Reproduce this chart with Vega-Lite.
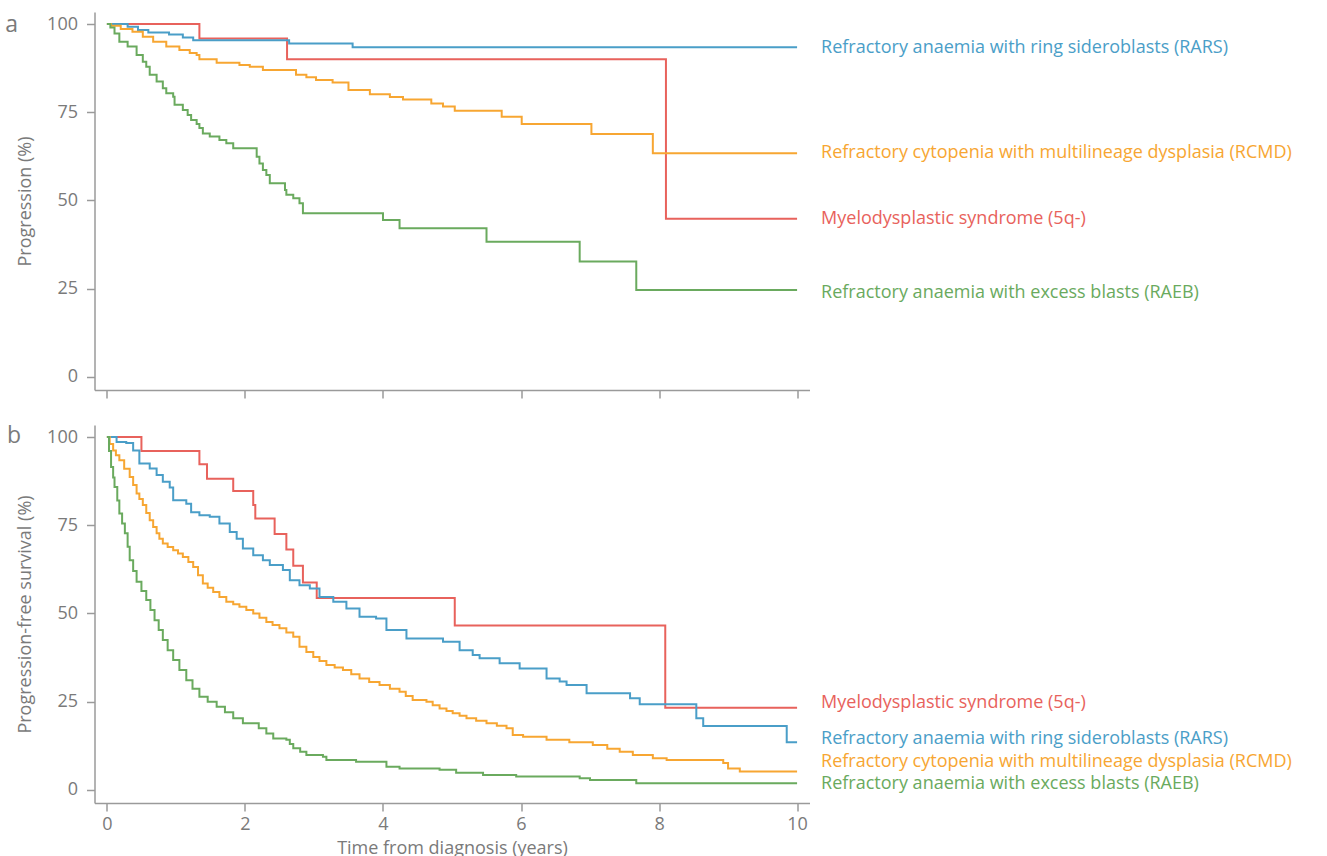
{
  "$schema": "https://vega.github.io/schema/vega-lite/v6.json",
  "background": "white",
  "padding": {"left": 4.5, "top": 12, "right": 5, "bottom": 0},
  "spacing": 35,
  "bounds": "flush",
  "config": {
    "view": {"stroke": null},
    "font": "Open Sans",
    "axis": {
      "grid": false,
      "domainColor": "#9a9a9a",
      "domainWidth": 1.5,
      "tickColor": "#9a9a9a",
      "tickWidth": 1.5,
      "tickSize": 8,
      "labelFont": "Open Sans",
      "labelFontSize": 18,
      "labelColor": "#7a7a7a",
      "titleFont": "Open Sans",
      "titleFontSize": 18,
      "titleColor": "#7a7a7a",
      "titleFontWeight": "normal"
    }
  },
  "datasets": {
    "curves": [
      {"p":"a","g":"5q","t":0,"v":100},{"p":"a","g":"5q","t":1.34,"v":95.9},{"p":"a","g":"5q","t":2.61,"v":90.0},{"p":"a","g":"5q","t":8.10,"v":44.8},{"p":"a","g":"5q","t":10,"v":44.8},
      {"p":"a","g":"RARS","t":0,"v":100},{"p":"a","g":"RARS","t":0.3,"v":99.2},{"p":"a","g":"RARS","t":0.45,"v":98.3},{"p":"a","g":"RARS","t":0.6,"v":97.6},{"p":"a","g":"RARS","t":0.9,"v":97.0},{"p":"a","g":"RARS","t":1.1,"v":96.2},{"p":"a","g":"RARS","t":1.25,"v":95.4},{"p":"a","g":"RARS","t":2.64,"v":94.5},{"p":"a","g":"RARS","t":3.56,"v":93.4},{"p":"a","g":"RARS","t":10,"v":93.4},
      {"p":"a","g":"RCMD","t":0,"v":100},{"p":"a","g":"RCMD","t":0.06,"v":99.5},{"p":"a","g":"RCMD","t":0.2,"v":98.6},{"p":"a","g":"RCMD","t":0.37,"v":97.8},{"p":"a","g":"RCMD","t":0.52,"v":96.4},{"p":"a","g":"RCMD","t":0.67,"v":95.0},{"p":"a","g":"RCMD","t":0.86,"v":93.6},{"p":"a","g":"RCMD","t":1.05,"v":92.6},{"p":"a","g":"RCMD","t":1.2,"v":91.8},{"p":"a","g":"RCMD","t":1.30,"v":91.2},{"p":"a","g":"RCMD","t":1.34,"v":90.0},{"p":"a","g":"RCMD","t":1.59,"v":89.0},{"p":"a","g":"RCMD","t":1.92,"v":88.4},{"p":"a","g":"RCMD","t":2.07,"v":87.9},{"p":"a","g":"RCMD","t":2.26,"v":87.0},{"p":"a","g":"RCMD","t":2.74,"v":85.6},{"p":"a","g":"RCMD","t":2.89,"v":84.9},{"p":"a","g":"RCMD","t":3.03,"v":84.1},{"p":"a","g":"RCMD","t":3.27,"v":83.4},{"p":"a","g":"RCMD","t":3.5,"v":81.3},{"p":"a","g":"RCMD","t":3.81,"v":80.1},{"p":"a","g":"RCMD","t":4.10,"v":79.3},{"p":"a","g":"RCMD","t":4.29,"v":78.6},{"p":"a","g":"RCMD","t":4.70,"v":77.5},{"p":"a","g":"RCMD","t":4.87,"v":76.6},{"p":"a","g":"RCMD","t":5.04,"v":75.4},{"p":"a","g":"RCMD","t":5.72,"v":73.7},{"p":"a","g":"RCMD","t":6.01,"v":71.7},{"p":"a","g":"RCMD","t":7.02,"v":68.8},{"p":"a","g":"RCMD","t":7.91,"v":63.4},{"p":"a","g":"RCMD","t":10,"v":63.4},
      {"p":"a","g":"RAEB","t":0,"v":100},{"p":"a","g":"RAEB","t":0.05,"v":99.0},{"p":"a","g":"RAEB","t":0.11,"v":97.3},{"p":"a","g":"RAEB","t":0.18,"v":95.0},{"p":"a","g":"RAEB","t":0.30,"v":93.6},{"p":"a","g":"RAEB","t":0.43,"v":91.2},{"p":"a","g":"RAEB","t":0.52,"v":89.3},{"p":"a","g":"RAEB","t":0.57,"v":87.9},{"p":"a","g":"RAEB","t":0.62,"v":85.6},{"p":"a","g":"RAEB","t":0.72,"v":83.7},{"p":"a","g":"RAEB","t":0.81,"v":81.8},{"p":"a","g":"RAEB","t":0.86,"v":80.4},{"p":"a","g":"RAEB","t":0.96,"v":79.4},{"p":"a","g":"RAEB","t":0.98,"v":77.1},{"p":"a","g":"RAEB","t":1.10,"v":75.6},{"p":"a","g":"RAEB","t":1.17,"v":74.2},{"p":"a","g":"RAEB","t":1.22,"v":72.8},{"p":"a","g":"RAEB","t":1.30,"v":71.7},{"p":"a","g":"RAEB","t":1.34,"v":70.5},{"p":"a","g":"RAEB","t":1.39,"v":69.0},{"p":"a","g":"RAEB","t":1.49,"v":68.1},{"p":"a","g":"RAEB","t":1.63,"v":67.1},{"p":"a","g":"RAEB","t":1.73,"v":66.2},{"p":"a","g":"RAEB","t":1.83,"v":64.8},{"p":"a","g":"RAEB","t":2.17,"v":62.4},{"p":"a","g":"RAEB","t":2.21,"v":60.5},{"p":"a","g":"RAEB","t":2.26,"v":58.6},{"p":"a","g":"RAEB","t":2.31,"v":57.2},{"p":"a","g":"RAEB","t":2.36,"v":54.9},{"p":"a","g":"RAEB","t":2.58,"v":53.0},{"p":"a","g":"RAEB","t":2.60,"v":51.6},{"p":"a","g":"RAEB","t":2.70,"v":50.6},{"p":"a","g":"RAEB","t":2.79,"v":49.2},{"p":"a","g":"RAEB","t":2.84,"v":46.4},{"p":"a","g":"RAEB","t":4.0,"v":44.5},{"p":"a","g":"RAEB","t":4.24,"v":42.1},{"p":"a","g":"RAEB","t":5.50,"v":38.3},{"p":"a","g":"RAEB","t":6.85,"v":32.7},{"p":"a","g":"RAEB","t":7.67,"v":24.6},{"p":"a","g":"RAEB","t":10,"v":24.6},
      {"p":"b","g":"5q","t":0,"v":100},{"p":"b","g":"5q","t":0.50,"v":96.0},{"p":"b","g":"5q","t":1.34,"v":92.3},{"p":"b","g":"5q","t":1.45,"v":88.2},{"p":"b","g":"5q","t":1.83,"v":84.7},{"p":"b","g":"5q","t":2.12,"v":80.7},{"p":"b","g":"5q","t":2.15,"v":76.9},{"p":"b","g":"5q","t":2.43,"v":72.5},{"p":"b","g":"5q","t":2.60,"v":68.1},{"p":"b","g":"5q","t":2.70,"v":63.5},{"p":"b","g":"5q","t":2.84,"v":58.8},{"p":"b","g":"5q","t":3.04,"v":54.4},{"p":"b","g":"5q","t":5.04,"v":46.6},{"p":"b","g":"5q","t":8.09,"v":23.3},{"p":"b","g":"5q","t":10,"v":23.3},
      {"p":"b","g":"RARS","t":0,"v":100},{"p":"b","g":"RARS","t":0.14,"v":98.6},{"p":"b","g":"RARS","t":0.28,"v":98.3},{"p":"b","g":"RARS","t":0.38,"v":96.2},{"p":"b","g":"RARS","t":0.47,"v":92.5},{"p":"b","g":"RARS","t":0.62,"v":91.1},{"p":"b","g":"RARS","t":0.72,"v":89.2},{"p":"b","g":"RARS","t":0.81,"v":87.3},{"p":"b","g":"RARS","t":0.91,"v":85.7},{"p":"b","g":"RARS","t":0.96,"v":82.1},{"p":"b","g":"RARS","t":1.15,"v":81.1},{"p":"b","g":"RARS","t":1.22,"v":78.7},{"p":"b","g":"RARS","t":1.34,"v":77.8},{"p":"b","g":"RARS","t":1.49,"v":77.4},{"p":"b","g":"RARS","t":1.63,"v":75.5},{"p":"b","g":"RARS","t":1.78,"v":73.1},{"p":"b","g":"RARS","t":1.88,"v":71.2},{"p":"b","g":"RARS","t":1.97,"v":68.4},{"p":"b","g":"RARS","t":2.12,"v":66.5},{"p":"b","g":"RARS","t":2.26,"v":65.1},{"p":"b","g":"RARS","t":2.36,"v":63.7},{"p":"b","g":"RARS","t":2.55,"v":62.3},{"p":"b","g":"RARS","t":2.65,"v":59.4},{"p":"b","g":"RARS","t":2.79,"v":58.0},{"p":"b","g":"RARS","t":2.94,"v":57.1},{"p":"b","g":"RARS","t":3.08,"v":54.7},{"p":"b","g":"RARS","t":3.28,"v":53.3},{"p":"b","g":"RARS","t":3.47,"v":51.4},{"p":"b","g":"RARS","t":3.66,"v":49.1},{"p":"b","g":"RARS","t":3.90,"v":48.6},{"p":"b","g":"RARS","t":4.05,"v":45.3},{"p":"b","g":"RARS","t":4.34,"v":42.9},{"p":"b","g":"RARS","t":4.87,"v":42.0},{"p":"b","g":"RARS","t":5.11,"v":39.6},{"p":"b","g":"RARS","t":5.30,"v":38.2},{"p":"b","g":"RARS","t":5.40,"v":37.3},{"p":"b","g":"RARS","t":5.69,"v":35.9},{"p":"b","g":"RARS","t":5.98,"v":34.4},{"p":"b","g":"RARS","t":6.37,"v":31.6},{"p":"b","g":"RARS","t":6.56,"v":30.7},{"p":"b","g":"RARS","t":6.66,"v":29.7},{"p":"b","g":"RARS","t":6.95,"v":27.4},{"p":"b","g":"RARS","t":7.58,"v":26.0},{"p":"b","g":"RARS","t":7.72,"v":24.3},{"p":"b","g":"RARS","t":8.54,"v":20.3},{"p":"b","g":"RARS","t":8.64,"v":18.1},{"p":"b","g":"RARS","t":9.85,"v":13.5},{"p":"b","g":"RARS","t":10,"v":13.5},
      {"p":"b","g":"RCMD","t":0,"v":100},{"p":"b","g":"RCMD","t":0.04,"v":98.0},{"p":"b","g":"RCMD","t":0.09,"v":96.2},{"p":"b","g":"RCMD","t":0.13,"v":94.8},{"p":"b","g":"RCMD","t":0.18,"v":93.4},{"p":"b","g":"RCMD","t":0.25,"v":91.0},{"p":"b","g":"RCMD","t":0.33,"v":88.7},{"p":"b","g":"RCMD","t":0.38,"v":86.4},{"p":"b","g":"RCMD","t":0.43,"v":84.0},{"p":"b","g":"RCMD","t":0.47,"v":82.4},{"p":"b","g":"RCMD","t":0.52,"v":80.7},{"p":"b","g":"RCMD","t":0.57,"v":78.5},{"p":"b","g":"RCMD","t":0.62,"v":76.4},{"p":"b","g":"RCMD","t":0.67,"v":74.5},{"p":"b","g":"RCMD","t":0.72,"v":72.7},{"p":"b","g":"RCMD","t":0.76,"v":71.2},{"p":"b","g":"RCMD","t":0.81,"v":69.8},{"p":"b","g":"RCMD","t":0.88,"v":68.8},{"p":"b","g":"RCMD","t":0.96,"v":67.9},{"p":"b","g":"RCMD","t":1.03,"v":67.0},{"p":"b","g":"RCMD","t":1.10,"v":66.0},{"p":"b","g":"RCMD","t":1.18,"v":64.6},{"p":"b","g":"RCMD","t":1.25,"v":63.2},{"p":"b","g":"RCMD","t":1.32,"v":60.8},{"p":"b","g":"RCMD","t":1.39,"v":58.5},{"p":"b","g":"RCMD","t":1.46,"v":57.3},{"p":"b","g":"RCMD","t":1.54,"v":56.1},{"p":"b","g":"RCMD","t":1.63,"v":54.7},{"p":"b","g":"RCMD","t":1.73,"v":53.3},{"p":"b","g":"RCMD","t":1.83,"v":52.6},{"p":"b","g":"RCMD","t":1.92,"v":51.9},{"p":"b","g":"RCMD","t":2.02,"v":51.0},{"p":"b","g":"RCMD","t":2.12,"v":50.0},{"p":"b","g":"RCMD","t":2.21,"v":48.8},{"p":"b","g":"RCMD","t":2.31,"v":47.6},{"p":"b","g":"RCMD","t":2.40,"v":46.7},{"p":"b","g":"RCMD","t":2.50,"v":45.8},{"p":"b","g":"RCMD","t":2.60,"v":44.6},{"p":"b","g":"RCMD","t":2.70,"v":43.4},{"p":"b","g":"RCMD","t":2.79,"v":40.6},{"p":"b","g":"RCMD","t":2.89,"v":39.1},{"p":"b","g":"RCMD","t":2.99,"v":37.7},{"p":"b","g":"RCMD","t":3.08,"v":36.5},{"p":"b","g":"RCMD","t":3.18,"v":35.4},{"p":"b","g":"RCMD","t":3.30,"v":34.7},{"p":"b","g":"RCMD","t":3.42,"v":34.0},{"p":"b","g":"RCMD","t":3.54,"v":32.8},{"p":"b","g":"RCMD","t":3.66,"v":31.6},{"p":"b","g":"RCMD","t":3.80,"v":30.6},{"p":"b","g":"RCMD","t":3.95,"v":29.7},{"p":"b","g":"RCMD","t":4.10,"v":28.7},{"p":"b","g":"RCMD","t":4.24,"v":27.8},{"p":"b","g":"RCMD","t":4.33,"v":26.6},{"p":"b","g":"RCMD","t":4.43,"v":25.5},{"p":"b","g":"RCMD","t":4.63,"v":25.0},{"p":"b","g":"RCMD","t":4.72,"v":24.0},{"p":"b","g":"RCMD","t":4.82,"v":23.1},{"p":"b","g":"RCMD","t":4.92,"v":22.4},{"p":"b","g":"RCMD","t":5.01,"v":21.7},{"p":"b","g":"RCMD","t":5.11,"v":21.0},{"p":"b","g":"RCMD","t":5.21,"v":20.3},{"p":"b","g":"RCMD","t":5.35,"v":19.6},{"p":"b","g":"RCMD","t":5.50,"v":18.9},{"p":"b","g":"RCMD","t":5.65,"v":18.2},{"p":"b","g":"RCMD","t":5.79,"v":17.5},{"p":"b","g":"RCMD","t":5.88,"v":15.6},{"p":"b","g":"RCMD","t":6.03,"v":15.1},{"p":"b","g":"RCMD","t":6.37,"v":14.2},{"p":"b","g":"RCMD","t":6.70,"v":13.5},{"p":"b","g":"RCMD","t":7.04,"v":12.7},{"p":"b","g":"RCMD","t":7.25,"v":11.7},{"p":"b","g":"RCMD","t":7.43,"v":10.8},{"p":"b","g":"RCMD","t":7.62,"v":9.9},{"p":"b","g":"RCMD","t":7.91,"v":9.0},{"p":"b","g":"RCMD","t":8.11,"v":8.5},{"p":"b","g":"RCMD","t":8.93,"v":7.6},{"p":"b","g":"RCMD","t":9.0,"v":6.1},{"p":"b","g":"RCMD","t":9.17,"v":5.2},{"p":"b","g":"RCMD","t":10,"v":5.2},
      {"p":"b","g":"RAEB","t":0,"v":100},{"p":"b","g":"RAEB","t":0.03,"v":96.0},{"p":"b","g":"RAEB","t":0.06,"v":91.5},{"p":"b","g":"RAEB","t":0.09,"v":88.5},{"p":"b","g":"RAEB","t":0.11,"v":85.8},{"p":"b","g":"RAEB","t":0.15,"v":82.0},{"p":"b","g":"RAEB","t":0.18,"v":78.3},{"p":"b","g":"RAEB","t":0.22,"v":75.5},{"p":"b","g":"RAEB","t":0.26,"v":72.7},{"p":"b","g":"RAEB","t":0.30,"v":68.9},{"p":"b","g":"RAEB","t":0.33,"v":65.1},{"p":"b","g":"RAEB","t":0.38,"v":62.0},{"p":"b","g":"RAEB","t":0.43,"v":59.0},{"p":"b","g":"RAEB","t":0.50,"v":56.4},{"p":"b","g":"RAEB","t":0.57,"v":53.8},{"p":"b","g":"RAEB","t":0.63,"v":51.0},{"p":"b","g":"RAEB","t":0.69,"v":48.1},{"p":"b","g":"RAEB","t":0.75,"v":45.3},{"p":"b","g":"RAEB","t":0.81,"v":42.5},{"p":"b","g":"RAEB","t":0.88,"v":39.6},{"p":"b","g":"RAEB","t":0.96,"v":36.8},{"p":"b","g":"RAEB","t":1.05,"v":34.0},{"p":"b","g":"RAEB","t":1.15,"v":31.1},{"p":"b","g":"RAEB","t":1.24,"v":28.7},{"p":"b","g":"RAEB","t":1.34,"v":26.4},{"p":"b","g":"RAEB","t":1.46,"v":25.0},{"p":"b","g":"RAEB","t":1.59,"v":23.6},{"p":"b","g":"RAEB","t":1.71,"v":22.0},{"p":"b","g":"RAEB","t":1.83,"v":20.3},{"p":"b","g":"RAEB","t":1.97,"v":18.9},{"p":"b","g":"RAEB","t":2.20,"v":17.5},{"p":"b","g":"RAEB","t":2.31,"v":16.0},{"p":"b","g":"RAEB","t":2.41,"v":14.6},{"p":"b","g":"RAEB","t":2.60,"v":14.2},{"p":"b","g":"RAEB","t":2.65,"v":13.0},{"p":"b","g":"RAEB","t":2.70,"v":11.8},{"p":"b","g":"RAEB","t":2.80,"v":10.8},{"p":"b","g":"RAEB","t":2.89,"v":9.9},{"p":"b","g":"RAEB","t":3.13,"v":9.4},{"p":"b","g":"RAEB","t":3.18,"v":8.5},{"p":"b","g":"RAEB","t":3.61,"v":8.0},{"p":"b","g":"RAEB","t":4.05,"v":6.6},{"p":"b","g":"RAEB","t":4.24,"v":6.1},{"p":"b","g":"RAEB","t":4.82,"v":5.7},{"p":"b","g":"RAEB","t":5.06,"v":4.9},{"p":"b","g":"RAEB","t":5.45,"v":4.2},{"p":"b","g":"RAEB","t":5.93,"v":3.8},{"p":"b","g":"RAEB","t":6.85,"v":3.3},{"p":"b","g":"RAEB","t":7.0,"v":2.8},{"p":"b","g":"RAEB","t":7.67,"v":1.9},{"p":"b","g":"RAEB","t":10,"v":1.9}
    ],
    "labels": [
      {"p":"a","g":"RARS","t":10,"v":91.8,"label":"Refractory anaemia with ring sideroblasts (RARS)"},
      {"p":"a","g":"RCMD","t":10,"v":62.0,"label":"Refractory cytopenia with multilineage dysplasia (RCMD)"},
      {"p":"a","g":"5q","t":10,"v":43.3,"label":"Myelodysplastic syndrome (5q-)"},
      {"p":"a","g":"RAEB","t":10,"v":22.4,"label":"Refractory anaemia with excess blasts (RAEB)"},
      {"p":"b","g":"5q","t":10,"v":23.2,"label":"Myelodysplastic syndrome (5q-)"},
      {"p":"b","g":"RARS","t":10,"v":13.0,"label":"Refractory anaemia with ring sideroblasts (RARS)"},
      {"p":"b","g":"RCMD","t":10,"v":6.6,"label":"Refractory cytopenia with multilineage dysplasia (RCMD)"},
      {"p":"b","g":"RAEB","t":10,"v":0.3,"label":"Refractory anaemia with excess blasts (RAEB)"}
    ]
  },
  "vconcat": [
    {
      "width": 715,
      "height": 378,
      "layer": [
        {
          "data": {"name": "curves"},
          "transform": [{"filter": "datum.p === 'a'"}],
          "mark": {"type": "line", "interpolate": "step-after", "strokeWidth": 2},
          "encoding": {
            "x": {"field": "t", "type": "quantitative", "scale": {"domain": [-0.18, 10.18], "nice": false, "zero": false},
                  "axis": {"values": [0, 2, 4, 6, 8, 10], "labels": false, "title": null}},
            "y": {"field": "v", "type": "quantitative", "scale": {"domain": [-3.7, 103.4], "nice": false, "zero": false},
                  "axis": {"values": [0, 25, 50, 75, 100], "format": "d", "title": "Progression (%)", "labelPadding": 9, "titlePadding": 12}},
            "color": {"field": "g", "type": "nominal", "legend": null,
                      "scale": {"domain": ["RARS", "RCMD", "5q", "RAEB"], "range": ["#4a9ec8", "#f7a632", "#e8625c", "#6aaa5e"]}}
          }
        },
        {
          "data": {"name": "labels"},
          "transform": [{"filter": "datum.p === 'a'"}],
          "mark": {"type": "text", "align": "left", "baseline": "alphabetic", "dx": 24, "fontSize": 18},
          "encoding": {
            "x": {"field": "t", "type": "quantitative"},
            "y": {"field": "v", "type": "quantitative"},
            "text": {"field": "label"},
            "color": {"field": "g", "type": "nominal", "legend": null}
          }
        },
        {
          "data": {"values": [{"letter": "a"}]},
          "mark": {"type": "text", "align": "center", "baseline": "alphabetic", "fontSize": 23, "color": "#7a7a7a"},
          "encoding": {
            "x": {"datum": -1.38},
            "y": {"datum": 97.7},
            "text": {"field": "letter"}
          }
        }
      ]
    },
    {
      "width": 715,
      "height": 378,
      "layer": [
        {
          "data": {"name": "curves"},
          "transform": [{"filter": "datum.p === 'b'"}],
          "mark": {"type": "line", "interpolate": "step-after", "strokeWidth": 2},
          "encoding": {
            "x": {"field": "t", "type": "quantitative", "scale": {"domain": [-0.18, 10.18], "nice": false, "zero": false},
                  "axis": {"values": [0, 2, 4, 6, 8, 10], "format": "d", "title": "Time from diagnosis (years)", "labelPadding": 4, "titlePadding": 6}},
            "y": {"field": "v", "type": "quantitative", "scale": {"domain": [-3.7, 103.4], "nice": false, "zero": false},
                  "axis": {"values": [0, 25, 50, 75, 100], "format": "d", "title": "Progression-free survival (%)", "labelPadding": 9, "titlePadding": 12}},
            "color": {"field": "g", "type": "nominal", "legend": null}
          }
        },
        {
          "data": {"name": "labels"},
          "transform": [{"filter": "datum.p === 'b'"}],
          "mark": {"type": "text", "align": "left", "baseline": "alphabetic", "dx": 24, "fontSize": 18},
          "encoding": {
            "x": {"field": "t", "type": "quantitative"},
            "y": {"field": "v", "type": "quantitative"},
            "text": {"field": "label"},
            "color": {"field": "g", "type": "nominal", "legend": null}
          }
        },
        {
          "data": {"values": [{"letter": "b"}]},
          "mark": {"type": "text", "align": "center", "baseline": "alphabetic", "fontSize": 23, "color": "#7a7a7a"},
          "encoding": {
            "x": {"datum": -1.345},
            "y": {"datum": 98.2},
            "text": {"field": "letter"}
          }
        }
      ]
    }
  ]
}
